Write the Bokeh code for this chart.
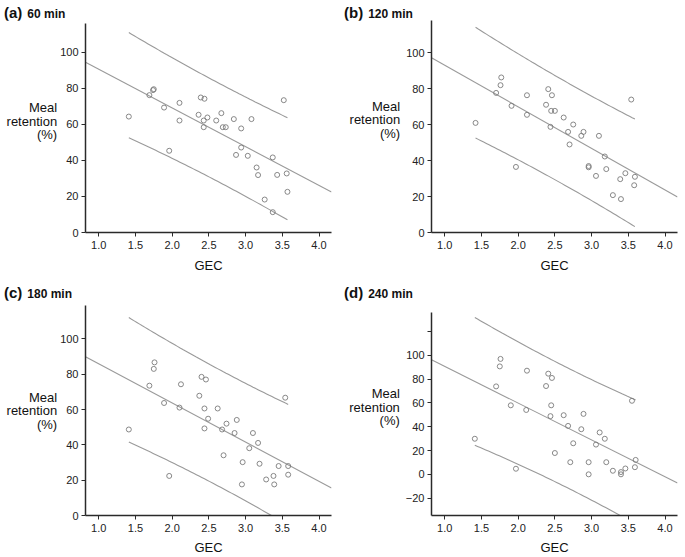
import numpy as np
from bokeh.plotting import figure
from bokeh.models import Range1d, FixedTicker, PrintfTickFormatter, Div
from bokeh.layouts import column, row
from bokeh.embed import file_html
from bokeh.resources import INLINE

# ---------------- data ----------------
gec_60 = [1.41, 1.69, 1.74, 1.75, 1.89, 1.96, 2.10, 2.10, 2.36, 2.39, 2.44, 2.43, 2.43, 2.48, 2.60, 2.67, 2.69,
          2.73, 2.84, 2.87, 2.94, 2.94, 3.03, 3.08, 3.15, 3.17, 3.26, 3.37, 3.37, 3.43, 3.52, 3.56, 3.57]
ret_60 = [64.4, 76.3, 79.1, 79.6, 69.4, 45.4, 72.0, 62.2, 65.4, 75.0, 74.3, 62.2, 58.5, 63.9, 62.2, 66.3, 58.5,
          58.5, 63.0, 43.1, 57.8, 47.2, 42.6, 63.0, 36.1, 31.9, 18.3, 41.7, 11.3, 32.0, 73.5, 32.8, 22.6]

gec_120 = [1.42, 1.70, 1.76, 1.77, 1.91, 1.97, 2.12, 2.12, 2.38, 2.41, 2.46, 2.45, 2.50, 2.44, 2.62, 2.68, 2.75,
           2.70, 2.86, 2.89, 2.96, 2.96, 3.06, 3.10, 3.18, 3.20, 3.29, 3.39, 3.40, 3.46, 3.54, 3.58, 3.59]
ret_120 = [61.0, 77.7, 82.0, 86.3, 70.5, 36.5, 76.4, 65.5, 71.1, 79.8, 76.4, 67.7, 67.7, 58.8, 64.0, 56.0, 60.1,
           49.0, 53.8, 56.0, 37.0, 36.3, 31.5, 53.8, 42.3, 35.3, 20.8, 29.7, 18.6, 33.0, 74.0, 26.3, 31.0]

gec_180 = [1.41, 1.69, 1.75, 1.76, 1.89, 1.96, 2.12, 2.10, 2.37, 2.40, 2.46, 2.44, 2.49, 2.44, 2.62, 2.74, 2.68,
           2.70, 2.85, 2.88, 2.96, 2.95, 3.05, 3.10, 3.17, 3.19, 3.28, 3.38, 3.39, 3.45, 3.54, 3.58, 3.58]
ret_180 = [48.7, 73.5, 83.0, 86.7, 63.7, 22.4, 74.3, 61.1, 67.8, 78.5, 77.0, 60.6, 54.8, 49.3, 60.6, 52.0, 48.7,
           34.1, 46.7, 54.1, 30.2, 17.6, 38.1, 46.7, 41.1, 29.3, 20.4, 22.4, 17.6, 28.0, 66.7, 23.1, 28.0]

gec_240 = [1.41, 1.70, 1.75, 1.76, 1.90, 1.97, 2.12, 2.11, 2.38, 2.41, 2.46, 2.45, 2.50, 2.44, 2.62, 2.68, 2.75,
           2.71, 2.86, 2.89, 2.96, 2.96, 3.06, 3.11, 3.18, 3.20, 3.29, 3.40, 3.40, 3.46, 3.55, 3.59, 3.60]
ret_240 = [29.9, 73.9, 90.7, 97.0, 58.0, 4.7, 87.1, 54.1, 74.2, 84.6, 81.0, 58.0, 17.9, 48.9, 49.7, 40.7, 26.1,
           10.2, 37.9, 50.8, 10.2, 0.0, 25.0, 35.2, 29.9, 10.2, 3.0, 1.9, 0.0, 4.9, 61.8, 6.0, 12.1]

panel_letters = ["(a)", "(b)", "(c)", "(d)"]
panel_times = ["60 min", "120 min", "180 min", "240 min"]
x_ticks = [1.0, 1.5, 2.0, 2.5, 3.0, 3.5, 4.0]
y_ticks_std = [0, 20, 40, 60, 80, 100]
y_ticks_240 = [-20, 0, 20, 40, 60, 80, 100, 120]
y_label_lines = ["Meal", "retention", "(%)"]
x_label = "GEC"
T_CRIT = 2.04  # t(0.975, df=31) for the 95% prediction band

FONT = "Liberation Sans"
AXIS_COLOR = "#2a2a2a"
LINE_COLOR = "#9a9a9a"
DOT_COLOR = "#7a7a7a"

# layout settings per panel (pixels / ranges); lift = empty lines under the y label to raise it
layouts = [
    dict(w=342, h=260, bl=85, br=11, bt=3, bb=48, y=(0, 116.1), ticks=y_ticks_std,
         pad=4, ylstand=0, xlstand=6, lift=1),
    dict(w=343, h=260, bl=89, br=8, bt=0, bb=48, y=(0, 118), ticks=y_ticks_std,
         pad=2, ylstand=3, xlstand=6, lift=1),
    dict(w=342, h=257, bl=85, br=11, bt=5, bb=38, y=(0, 118.9), ticks=y_ticks_std,
         pad=4, ylstand=0, xlstand=5, lift=0),
    dict(w=343, h=257, bl=89, br=8, bt=12, bb=38, y=(-34.6, 136.0), ticks=y_ticks_240,
         pad=2, ylstand=3, xlstand=5, lift=1),
]
DIV_H = 20
series = [(gec_60, ret_60), (gec_120, ret_120), (gec_180, ret_180), (gec_240, ret_240)]
X_RANGE = (0.82, 4.17)


def make_panel(i):
    cfg = layouts[i]
    gx, ry = series[i]
    p = figure(width=cfg["w"], height=cfg["h"], output_backend="svg", toolbar_location=None,
               x_range=Range1d(*X_RANGE), y_range=Range1d(*cfg["y"]),
               min_border_left=cfg["bl"], min_border_right=cfg["br"],
               min_border_top=cfg["bt"], min_border_bottom=cfg["bb"])
    p.outline_line_color = None
    p.xgrid.visible = False
    p.ygrid.visible = False
    p.background_fill_color = "white"
    p.border_fill_color = "white"

    for ax in (p.xaxis[0], p.yaxis[0]):
        ax.axis_line_color = AXIS_COLOR
        ax.axis_line_width = 1.5
        ax.major_tick_line_color = AXIS_COLOR
        ax.major_tick_line_width = 1
        ax.major_tick_in = 0
        ax.major_tick_out = 4
        ax.minor_tick_line_color = None
        ax.major_label_text_font = FONT
        ax.major_label_text_font_size = "11px"
        ax.major_label_text_color = "#222222"
        ax.axis_label_text_font = FONT
        ax.axis_label_text_font_style = "normal"
        ax.axis_label_text_color = "#111111"
    p.xaxis.major_label_standoff = 4
    p.yaxis.major_label_standoff = 3
    p.xaxis.ticker = FixedTicker(ticks=x_ticks)
    p.xaxis.formatter = PrintfTickFormatter(format="%.1f")
    p.xaxis.axis_label = x_label
    p.xaxis.axis_label_text_font_size = "13px"
    p.xaxis.axis_label_standoff = cfg["xlstand"]
    p.yaxis.ticker = FixedTicker(ticks=cfg["ticks"])
    if 120 in cfg["ticks"]:
        p.yaxis.major_label_overrides = {120: ""}
    p.yaxis.axis_label = "\n".join(y_label_lines) + "\n" * cfg["lift"]
    p.yaxis.axis_label_text_font_size = "13px"
    p.yaxis.axis_label_text_line_height = 0.9
    p.yaxis.axis_label_standoff = cfg["ylstand"]
    try:
        p.yaxis.axis_label_orientation = "horizontal"
    except Exception:
        pass

    x = np.asarray(gx, dtype=float)
    y = np.asarray(ry, dtype=float)
    n = len(x)
    slope, intercept = np.polyfit(x, y, 1)
    resid = y - (intercept + slope * x)
    s = np.sqrt(np.sum(resid ** 2) / (n - 2))
    xbar = x.mean()
    sxx = np.sum((x - xbar) ** 2)

    xf = np.array(X_RANGE)
    p.line(xf, intercept + slope * xf, line_color=LINE_COLOR, line_width=1.1)
    xs = np.linspace(x.min(), x.max(), 60)
    half = T_CRIT * s * np.sqrt(1 + 1 / n + (xs - xbar) ** 2 / sxx)
    yc = intercept + slope * xs
    p.line(xs, yc + half, line_color=LINE_COLOR, line_width=1.1)
    p.line(xs, yc - half, line_color=LINE_COLOR, line_width=1.1)

    p.scatter(x, y, marker="circle", size=5, fill_color=None, line_color=DOT_COLOR, line_width=0.9)

    html = (
        f'<div style="font-family:\'{FONT}\';font-weight:bold;color:#111;white-space:nowrap;'
        f'line-height:1;margin:0;padding:0 0 0 {cfg["pad"]}px;position:relative;top:5px;">'
        f'<span style="font-size:15px;">{panel_letters[i]}</span>'
        f'<span style="font-size:12px;margin-left:5px;">{panel_times[i]}</span></div>'
    )
    title = Div(text=html, width=cfg["w"], height=DIV_H, margin=(0, 0, 0, 0))
    return column(title, p, spacing=0)


panels = [make_panel(i) for i in range(4)]
layout = column(row(panels[0], panels[1], spacing=0), row(panels[2], panels[3], spacing=0), spacing=0)
open("out.html", "w").write(file_html(layout, INLINE))
